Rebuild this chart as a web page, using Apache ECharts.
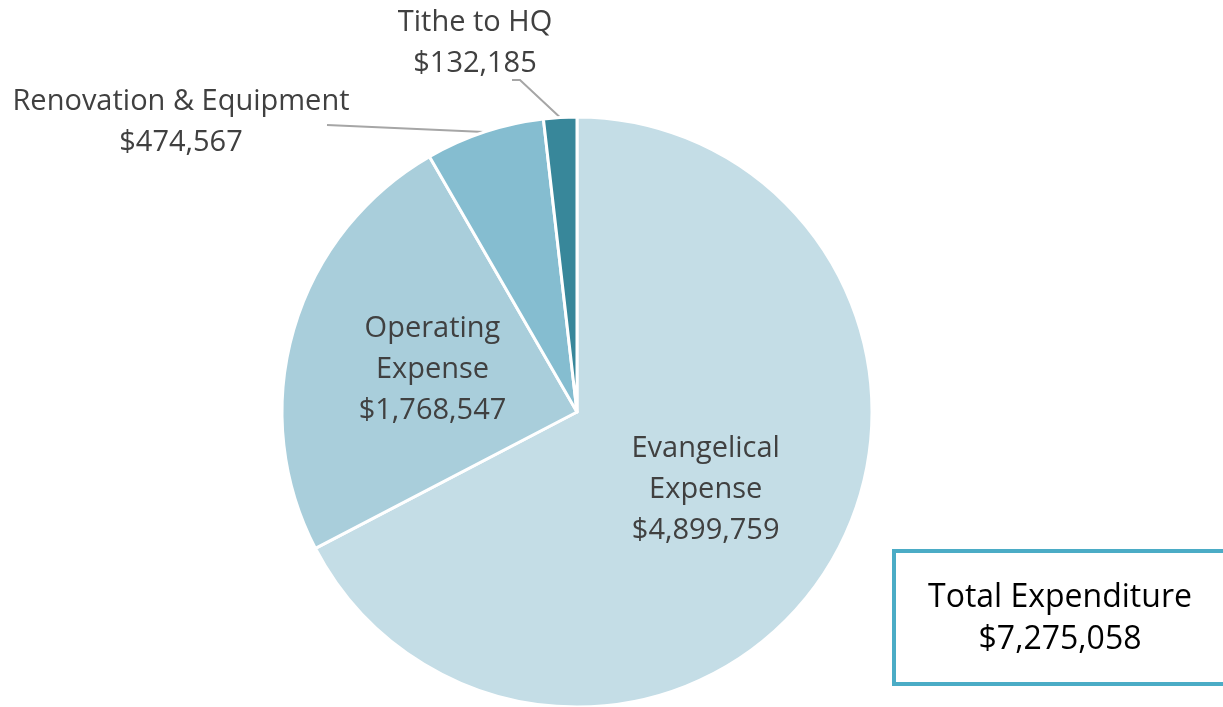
<!DOCTYPE html>
<html>
<head>
<meta charset="utf-8">
<script src="https://cdn.jsdelivr.net/npm/echarts@6/dist/echarts.min.js"></script>
<style>
    html, body { margin: 0; padding: 0; background: #fff; }
    #main { width: 1223px; height: 707px; }
</style>
</head>
<body>
<div id="main"></div>
<script>
const names = ['Evangelical\nExpense', 'Operating\nExpense', 'Renovation & Equipment', 'Tithe to HQ']
const values = [4899759, 1768547, 474567, 132185]
const colors = ['#C4DDE6', '#A9CEDB', '#85BDD0', '#38879A']
const totalLabel = 'Total Expenditure'
const totalValue = 7275058

const fmt = v => '$' + v.toLocaleString('en-US')

const chart = echarts.init(document.getElementById('main'))

const data = names.map((n, i) => {
    const item = { name: n, value: values[i], itemStyle: { color: colors[i] } }
    if (i >= 2) {
        item.label = { position: 'outside', overflow: 'none' }
        item.labelLine = { show: true }
    }
    return item
})

// where the two outside labels sit, and where their leader lines end
const outsidePos = {
    2: { x: 181, y: 122, line: [[327, 125]] },
    3: { x: 475, y: 43, line: [[520, 80], [512, 80]] }
}

chart.setOption({
    animation: false,
    series: [
        {
            type: 'pie',
            center: [577, 412],
            radius: [0, 295],
            startAngle: 90,
            clockwise: true,
            data: data,
            itemStyle: { borderColor: '#fff', borderWidth: 3 },
            label: {
                position: 'inside',
                formatter: p => p.name + '\n' + fmt(p.value),
                fontFamily: 'Open Sans',
                fontSize: 29,
                lineHeight: 41,
                color: '#404040',
                overflow: 'none',
                edgeDistance: 0
            },
            labelLine: {
                show: false,
                length: 20,
                length2: 30,
                lineStyle: { color: '#a6a6a6', width: 2 }
            },
            labelLayout: p => {
                const pos = outsidePos[p.dataIndex]
                if (!pos) return {}
                const res = { x: pos.x, y: pos.y, align: 'center', verticalAlign: 'middle' }
                if (p.labelLinePoints) {
                    res.labelLinePoints = [p.labelLinePoints[0]].concat(pos.line)
                }
                return res
            }
        }
    ],
    graphic: [
        {
            type: 'rect',
            shape: { x: 894, y: 551, width: 340, height: 133 },
            style: { fill: '#fff', stroke: '#4BACC6', lineWidth: 4 }
        },
        {
            type: 'text',
            x: 1060, y: 619,
            style: {
                text: totalLabel + '\n' + fmt(totalValue),
                fontFamily: 'Open Sans',
                fontSize: 32,
                lineHeight: 42,
                fill: '#000',
                align: 'center',
                verticalAlign: 'middle'
            }
        }
    ]
})
</script>
</body>
</html>
